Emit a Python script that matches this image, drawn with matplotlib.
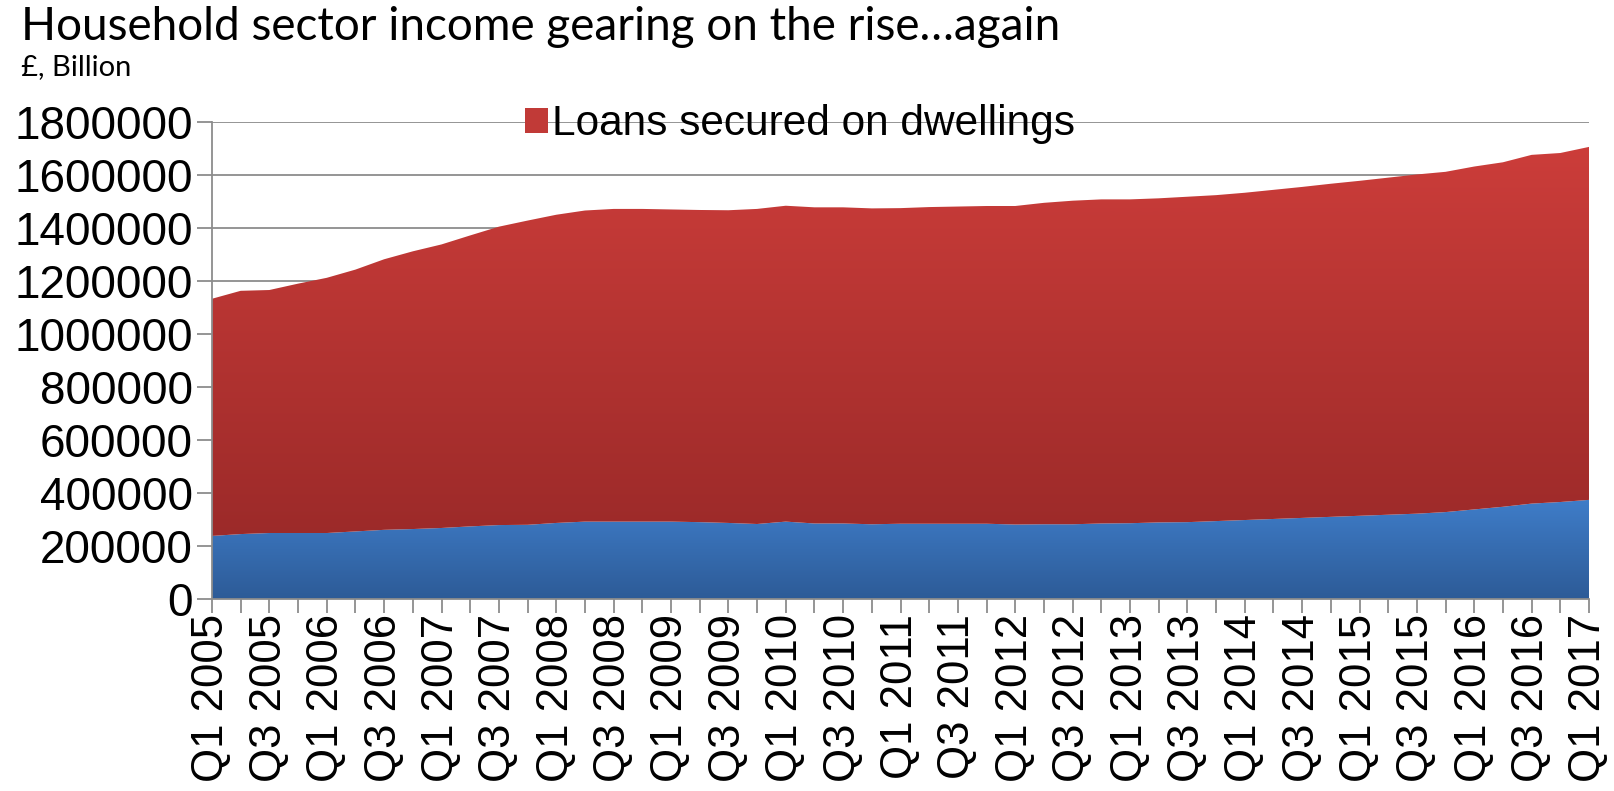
import matplotlib
matplotlib.use("Agg")

import numpy as np
import matplotlib.pyplot as plt
from matplotlib.patches import Patch

# quarters Q1 2005 .. Q1 2017
quarters = []
for yr in range(2005, 2018):
    for q in range(1, 5):
        quarters.append(f"Q{q} {yr}")
quarters = quarters[:49]

# consumer credit (bottom, blue)
consumer_credit = [
    238000, 245000, 249000, 249000, 249000, 255000, 261000, 264000, 268000, 274000,
    279000, 280000, 287000, 292000, 292000, 292000, 292000, 290000, 287000, 283000,
    292000, 285000, 285000, 282000, 284000, 284000, 284000, 284000, 281000, 282000,
    282000, 285000, 286000, 289000, 290000, 294000, 298000, 302000, 306000, 310000,
    314000, 318000, 322000, 328000, 338000, 348000, 360000, 366000, 374000,
]
# total liabilities (top line of the stack)
total = [
    1133000, 1163000, 1166000, 1190000, 1212000, 1243000, 1282000, 1312000, 1338000, 1372000,
    1405000, 1428000, 1450000, 1466000, 1472000, 1472000, 1470000, 1468000, 1467000, 1472000,
    1484000, 1478000, 1478000, 1474000, 1475000, 1479000, 1481000, 1483000, 1483000, 1495000,
    1503000, 1508000, 1508000, 1512000, 1518000, 1524000, 1533000, 1544000, 1555000, 1567000,
    1578000, 1590000, 1602000, 1612000, 1632000, 1648000, 1676000, 1683000, 1706000,
]
loans_dwellings = [t - c for t, c in zip(total, consumer_credit)]

x = np.arange(len(quarters))
blue_top = np.array(consumer_credit)
red_top = blue_top + np.array(loans_dwellings)

W, H = 1614, 791
fig = plt.figure(figsize=(W / 100, H / 100), dpi=100)
ax = fig.add_axes([212 / W, 1 - 599 / H, 1377 / W, 477 / H])

grid_c = "#8c8c8c"
ax.set_axisbelow(True)
ax.grid(axis="y", color=grid_c, linewidth=1.3)


def gradient_fill(lo, hi, c_top, c_bot):
    poly = ax.fill_between(x, lo, hi, color="none", linewidth=0)
    top = np.array(matplotlib.colors.to_rgb(c_top))
    bot = np.array(matplotlib.colors.to_rgb(c_bot))
    t = np.linspace(0, 1, 256)[:, None]
    img = (top * (1 - t) + bot * t)[:, None, :]
    y0, y1 = float(np.min(lo)), float(np.max(hi))
    im = ax.imshow(img, extent=[x[0], x[-1], y0, y1], aspect="auto",
                   origin="upper", zorder=2, interpolation="bilinear")
    im.set_clip_path(poly.get_paths()[0], transform=ax.transData)
    return poly


gradient_fill(np.zeros_like(blue_top), blue_top, "#3f7dc9", "#2d5b97")
gradient_fill(blue_top, red_top, "#cc3d3a", "#9c2a29")

ax.set_xlim(0, 48)
ax.set_ylim(0, 1800000)

ax.set_yticks(np.arange(0, 1800001, 200000))
ax.set_yticklabels([str(v) for v in range(0, 1800001, 200000)],
                   fontsize=33, family="Liberation Sans")
ax.set_xticks(x)
ax.set_xticklabels([q if i % 2 == 0 else "" for i, q in enumerate(quarters)],
                   rotation=90, fontsize=31.5, family="Liberation Sans")
ax.tick_params(axis="y", length=11, width=1.3, color=grid_c, pad=3)
ax.tick_params(axis="x", length=10, width=1.3, color=grid_c, pad=1)

for s in ["top", "right"]:
    ax.spines[s].set_visible(False)
for s in ["left", "bottom"]:
    ax.spines[s].set_color(grid_c)
    ax.spines[s].set_linewidth(1.3)

handle = Patch(facecolor="#c13a37", edgecolor="none")
ax.legend([handle], ["Loans secured on dwellings"], loc="center left",
          bbox_to_anchor=(0.227, 0.995), frameon=False, borderpad=0,
          borderaxespad=0, handlelength=0.55, handleheight=0.55,
          handletextpad=0.1, prop={"family": "Liberation Sans", "size": 30.5})

fig.text(21 / W, 1 - 40 / H, "Household sector income gearing on the rise\u2026again",
         fontsize=33, family="Lato", va="baseline", ha="left")
fig.text(21 / W, 1 - 75 / H, "\u00a3, Billion", fontsize=21, family="Lato",
         va="baseline", ha="left")

fig.savefig("out.png", dpi=100)
